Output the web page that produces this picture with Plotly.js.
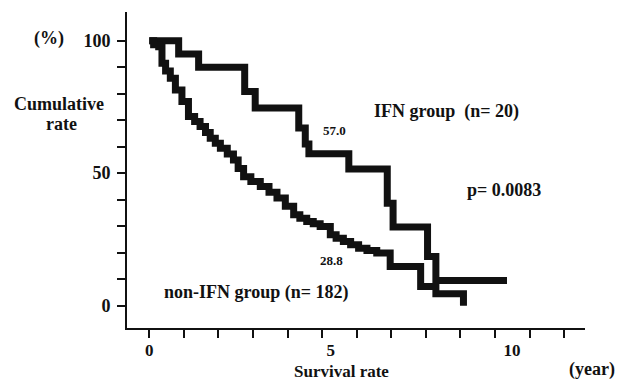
<!DOCTYPE html>
<html>
<head>
<meta charset="utf-8">
<script src="https://cdn.plot.ly/plotly-3.0.1.min.js"></script>
<style>html,body{margin:0;padding:0;background:#fff;}#chart{width:617px;height:382px;}</style>
</head>
<body>
<div id="chart"></div>
<script>
// IFN group (n=20): Kaplan-Meier steps
const ifnTime = [0, 0.81, 1.36, 2.63, 2.92, 4.12, 4.30, 4.40, 5.50, 6.56, 6.72, 7.67, 7.90, 9.86];
const ifnSurv = [100, 95, 90, 80.8, 74.6, 67, 61, 57.3, 51.6, 38.7, 29.7, 18.6, 9.5, 9.5];

// non-IFN group (n=182)
const nonTime = [0, 0.12, 0.26, 0.35, 0.45, 0.58, 0.72, 0.90, 1.08, 1.25, 1.40, 1.55, 1.68, 1.82, 1.96, 2.15, 2.32, 2.45, 2.60, 2.80, 3.06, 3.30, 3.52, 3.75, 3.98, 4.15, 4.34, 4.52, 4.71, 4.99, 5.15, 5.35, 5.55, 5.77, 6.00, 6.27, 6.64, 7.48, 7.90, 8.66];
const nonSurv = [100, 98.4, 97.7, 91.5, 88.5, 85.8, 81.4, 77.0, 71.4, 69.5, 67.6, 65.3, 63.2, 61.3, 59.4, 57.2, 55.0, 51.8, 48.7, 46.9, 45.0, 42.8, 40.6, 37.5, 34.3, 33.0, 31.8, 30.9, 29.9, 26.8, 25.5, 24.2, 23.0, 21.7, 20.8, 19.9, 14.8, 7.3, 4.5, 0];

const xTickVals = [0, 5, 10];
const xTickText = ['0', '5', '10'];
const yTickVals = [0, 10, 20, 30, 40, 50, 60, 70, 80, 90, 100];
const yTickText = ['0', '', '', '', '', '50', '', '', '', '', '100'];

const ink = '#111';
const serif = 'Liberation Serif, Times New Roman, serif';

const traces = [
  {x: ifnTime, y: ifnSurv, mode: 'lines', line: {shape: 'hv', width: 7, color: ink}, name: 'IFN group', hoverinfo: 'skip'},
  {x: nonTime, y: nonSurv, mode: 'lines', line: {shape: 'hv', width: 7, color: ink}, name: 'non-IFN group', hoverinfo: 'skip'}
];

function ann(text, x, y, size, ref) {
  return {text: text, x: x, y: y, xref: ref ? 'paper' : 'x', yref: ref ? 'paper' : 'y', showarrow: false,
    xanchor: 'center', yanchor: 'middle',
    font: {family: serif, size: size || 18, color: ink, weight: 'bold'}};
}

const layout = {
  width: 617, height: 382,
  margin: {l: 127, r: 32, t: 12, b: 54},
  paper_bgcolor: '#fff', plot_bgcolor: '#fff',
  showlegend: false,
  font: {family: serif, size: 18, color: ink, weight: 'bold'},
  xaxis: {
    range: [-0.614, 12.01], showgrid: false, zeroline: false,
    showline: true, linewidth: 2, linecolor: ink,
    tickmode: 'array', tickvals: xTickVals, ticktext: xTickText,
    ticks: '', ticklabelstandoff: 6,
    minor: {tick0: 0.001, dtick: 0.953, ticks: 'outside', ticklen: 8, tickwidth: 2, tickcolor: ink, showgrid: false},
    tickfont: {family: serif, size: 17, color: ink, weight: 'bold'}
  },
  yaxis: {
    range: [-8.4, 110.8], showgrid: false, zeroline: false,
    showline: true, linewidth: 2, linecolor: ink,
    tickmode: 'array', tickvals: yTickVals, ticktext: yTickText,
    ticks: 'outside', ticklen: 8, tickwidth: 2, tickcolor: ink, ticklabelstandoff: 3,
    tickfont: {family: serif, size: 18, color: ink, weight: 'bold'}
  },
  annotations: [
    ann('(%)', -0.1703, 0.9146, 18, true),
    ann('Cumulative', -0.1474, 0.7089, 18, true),
    ann('rate', -0.1441, 0.6456, 18, true),
    ann('IFN group\u00a0\u00a0(n= 20)', 8.18, 73.1),
    ann('57.0', 5.10, 66.0, 13),
    ann('p= 0.0083', 9.78, 43.7),
    ann('28.8', 5.03, 17.0, 13),
    ann('non-IFN group (n= 182)', 2.93, 4.9),
    ann('Survival rate', 0.4694, -0.1361, 17, true),
    ann('(year)', 1.0153, -0.1329, 18, true)
  ]
};

Plotly.newPlot('chart', traces, layout, {staticPlot: true, displayModeBar: false});
</script>
</body>
</html>
